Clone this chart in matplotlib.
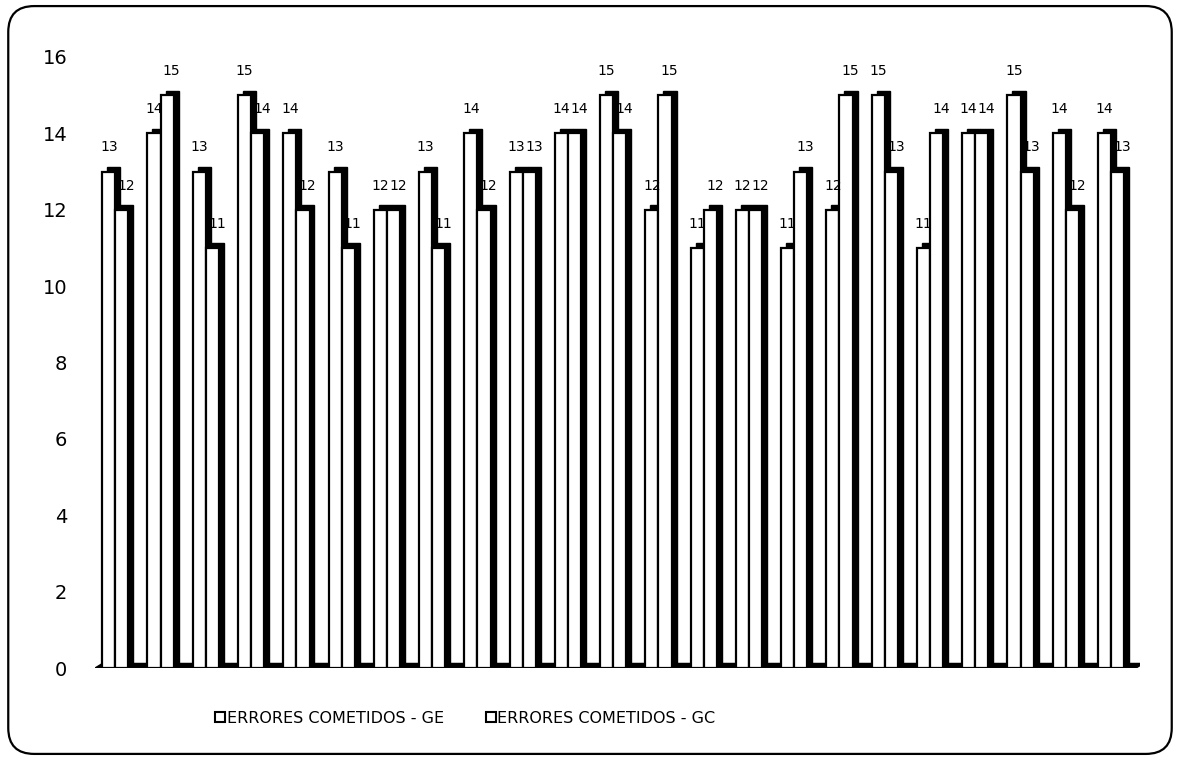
import matplotlib.pyplot as plt
import numpy as np
from matplotlib.patches import FancyBboxPatch, Polygon, Rectangle
from matplotlib.lines import Line2D

# Errores cometidos por grupo experimental (GE) y grupo control (GC)
errores_ge = [13, 14, 13, 15, 14, 13, 12, 13, 14, 13, 14, 15,
              12, 11, 12, 11, 12, 15, 11, 14, 15, 14, 14]
errores_gc = [12, 15, 11, 14, 12, 11, 12, 11, 12, 13, 14, 14,
              15, 12, 12, 13, 15, 13, 14, 14, 13, 12, 13]
serie_labels = ["ERRORES COMETIDOS - GE", "ERRORES COMETIDOS - GC"]
y_ticks = list(range(0, 17, 2))


def draw_bar3d(ax, x, width, height, dx, dy, z):
    """Barra blanca con cara lateral negra (efecto 3D tipo Excel)."""
    shadow = Rectangle((x + dx, dy), width, height, facecolor="black",
                       edgecolor="black", linewidth=1.0, zorder=z)
    front = Rectangle((x, 0), width, height, facecolor="white",
                      edgecolor="black", linewidth=1.6, zorder=z + 0.5)
    ax.add_patch(shadow)
    ax.add_patch(front)


def main():
    plt.rcParams["font.family"] = ["DejaVu Sans"]
    fig = plt.figure(figsize=(11.8, 7.6), dpi=100)
    ax = fig.add_axes([0.0805, 0.121, 0.886, 0.804])

    n = len(errores_ge)
    x = np.arange(n)
    width = 0.29
    dx, dy = 0.11, 0.12

    # suelo del grafico
    floor = Polygon([(-0.45, 0), (n - 0.45, 0), (n - 0.45 + dx * 1.5, dy),
                     (-0.45 + dx * 1.5, dy)], closed=True,
                    facecolor="black", edgecolor="black", linewidth=1.0, zorder=1)
    ax.add_patch(floor)

    for i in range(n):
        base_z = 2 + i * 2
        draw_bar3d(ax, x[i] - width, width, errores_ge[i], dx, dy, base_z)
        draw_bar3d(ax, x[i], width, errores_gc[i], dx, dy, base_z + 1)
        ax.text(x[i] - width / 2, errores_ge[i] + 0.45, str(errores_ge[i]),
                ha="center", va="bottom", fontsize=10, zorder=100)
        ax.text(x[i] + width / 2 + 0.1, errores_gc[i] + 0.45, str(errores_gc[i]),
                ha="center", va="bottom", fontsize=10, zorder=100)

    ax.set_xlim(-0.45, n - 0.35)
    ax.set_ylim(0, 16)
    ax.set_yticks(y_ticks)
    ax.set_yticklabels([str(v) for v in y_ticks], fontsize=14)
    ax.set_xticks([])
    ax.tick_params(axis="y", length=0, pad=20)
    for spine in ax.spines.values():
        spine.set_visible(False)

    handles = [Line2D([], [], marker="s", linestyle="none", markersize=7,
                      markerfacecolor="white", markeredgecolor="black",
                      markeredgewidth=1.5) for _ in serie_labels]
    fig.legend(handles, serie_labels, loc="center", bbox_to_anchor=(0.394, 0.055),
               ncol=2, frameon=False, fontsize=11.5, handletextpad=0.05,
               columnspacing=2.6, handlelength=0.7)

    # marco redondeado exterior
    frame = FancyBboxPatch((0.007, 0.008), 0.986, 0.984,
                           boxstyle="round,pad=0,rounding_size=0.022",
                           transform=fig.transFigure, facecolor="none",
                           edgecolor="black", linewidth=1.6,
                           mutation_aspect=1180 / 760)
    fig.patches.append(frame)

    fig.savefig("out.png", dpi=100)
    plt.close(fig)


if __name__ == "__main__":
    main()
